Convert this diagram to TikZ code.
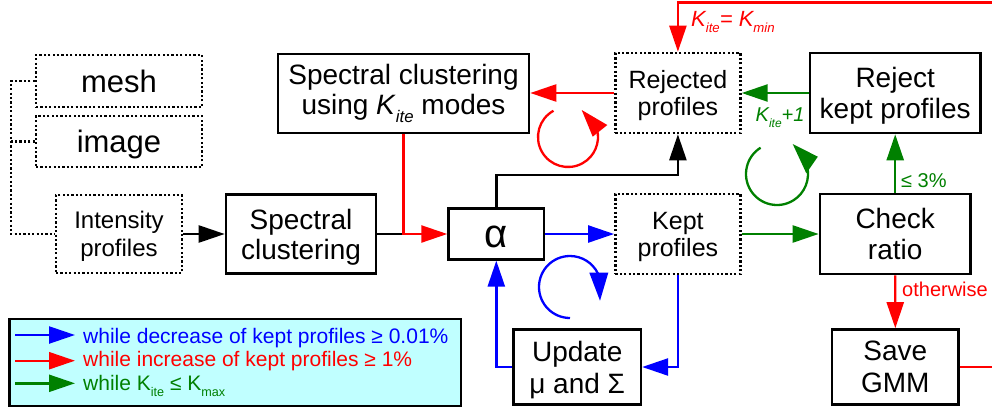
\documentclass[tikz,border=0pt]{standalone}
\usepackage{fontspec}
\usepackage{graphicx}
\setmainfont{Liberation Sans}
\usetikzlibrary{arrows.meta}
\definecolor{cgreen}{RGB}{0,128,0}
\definecolor{cred}{RGB}{255,0,0}
\definecolor{cblue}{RGB}{0,0,255}
\definecolor{legfill}{RGB}{192,255,255}
\newcommand{\fsz}[2]{\fontsize{#1}{#2}\selectfont}
\newcommand{\sbs}[1]{\raisebox{-0.3em}{\scalebox{0.6}{#1}}}
\begin{document}
\begin{tikzpicture}[x=1pt,y=-1pt,
  box/.style={draw, line width=2.6pt, align=center, inner sep=0pt},
  dbox/.style={box, dash pattern=on 2.2pt off 2.2pt},
  conn/.style={line width=2.4pt},
  arr/.style={conn, -{Triangle[length=26pt,width=17pt]}},
  dline/.style={line width=2.6pt, dash pattern=on 2.2pt off 2.2pt},
  lab/.style={anchor=base west, inner sep=0pt},
  loopline/.style={line width=2.3pt}
]
\useasboundingbox (0,0) rectangle (992,407);
\clip (0,0) rectangle (992,407);

% boxes
\node[dbox, minimum width=166pt, minimum height=52pt, font=\fsz{31}{36}] (mesh) at (119,81) {mesh};
\node[dbox, minimum width=166pt, minimum height=51pt, font=\fsz{31}{36}, text depth=0pt] (image) at (119,141.5) {image};
\node[dbox, minimum width=126pt, minimum height=78pt, font=\fsz{24}{28}, text depth=0pt] (intens) at (119,234) {Intensity\\profiles};
\node[box, minimum width=150pt, minimum height=79pt, font=\fsz{28}{30}, text depth=0pt] (spec) at (301,234) {Spectral\\clustering};
\node[box, minimum width=251pt, minimum height=79pt, font=\fsz{28}{30}] (speck) at (403.5,93.5) {Spectral clustering\\using \textit{K}\sbs{\textit{ite}} modes};
\node[box, minimum width=95.4pt, minimum height=50.7pt, font=\fsz{40}{44}, text height=27pt, text depth=0pt] (alpha) at (496.3,234) {α};
\node[dbox, minimum width=125pt, minimum height=80pt, font=\fsz{25}{27}, text depth=0pt] (rej) at (677.9,93) {Rejected\\profiles};
\node[dbox, minimum width=125pt, minimum height=80pt, font=\fsz{25}{27}, text depth=0pt] (kept) at (677.9,234) {Kept\\profiles};
\node[box, minimum width=170.5pt, minimum height=80pt, font=\fsz{28}{31}, text depth=0pt] (rejk) at (895.2,93) {Reject\\kept profiles};
\node[box, minimum width=150.5pt, minimum height=80pt, font=\fsz{28}{31}] (check) at (895.2,234) {Check\\ratio};
\node[box, minimum width=127.3pt, minimum height=75pt, font=\fsz{28}{32}, text depth=0pt] (update) at (577.2,367) {Update\\μ and Σ};
\node[box, minimum width=126.7pt, minimum height=75pt, font=\fsz{28}{31.5}] (save) at (895.3,367) {Save\\GMM};

% helper coordinates
\coordinate (tl) at (11,81);
\coordinate (k1) at (677.9,175);
\coordinate (toprt) at (995,2.3);
\coordinate (toppt) at (677.9,2.3);
\coordinate (savert) at (995,367);

% connectors
\draw[dline] (mesh.west) -- (mesh.west -| tl) |- (intens.west);
\draw[dline] (image.west) -- (image.west -| tl);
\draw[arr] (intens.east) -- (spec.west);
\draw[conn] (spec.east) -- (spec.east -| speck.south);
\draw[arr, cred] (speck.south) |- (alpha.west);
\draw[arr, cred] (rej.west) -- (rej.west -| speck.east);
\draw[arr, cgreen] (rejk.west) -- (rej.east);
\draw[arr, cblue] (alpha.east) -- (kept.west);
\draw[arr, cgreen] (kept.east) -- (check.west);
\draw[arr] (alpha.north) |- (k1) -- (rej.south);
\draw[arr, cblue] (kept.south) |- (update.east);
\draw[arr, cblue] (update.west) -| (alpha.south);
\draw[arr, cgreen] (check.north) -- (rejk.south);
\draw[arr, cred] (check.south) -- (save.north);
\draw[conn, cred] (save.east) -- (savert);
\draw[arr, cred] (toprt) -- (toppt) -- (rej.north);

% labels
\node[lab, cred, font=\fsz{22}{24}\itshape] (kmin) at (691,26) {K\sbs{ite}= K\sbs{min}};
\node[lab, cgreen, font=\fsz{20}{22}\itshape] (kplus) at (755.5,121) {K\sbs{ite}+1};
\node[lab, cgreen, font=\fsz{20}{22}] (le3) at (901,187) {≤ 3\%};
\node[lab, cred, font=\fsz{20}{22}] (oth) at (902,296) {otherwise};

% loop arrows
\draw[loopline, cred] (568,137) ++(-119:30) arc[start angle=-119, end angle=-375, radius=30];
\fill[cred] (581.7,110) -- (607.3,125) -- (592.7,136.7) -- cycle;
\draw[loopline, cgreen] (777,174) ++(-122:31) arc[start angle=-122, end angle=-375, radius=31];
\fill[cgreen] (792.7,144) -- (817.8,156.7) -- (806.3,173.3) -- cycle;
\draw[loopline, cblue] (570,287) ++(90:31) arc[start angle=90, end angle=334, radius=31];
\fill[cblue] (589.3,272.7) -- (608.3,272.7) -- (600,300.7) -- cycle;

% legend
\node[draw, line width=2.4pt, fill=legfill, minimum width=451.4pt, minimum height=87pt, inner sep=0pt] (legend) at (235,362.5) {};
\coordinate (la1) at (15,335);
\coordinate (lb1) at (75,335);
\coordinate (la2) at (15,360.7);
\coordinate (lb2) at (75,360.7);
\coordinate (la3) at (15,383.3);
\coordinate (lb3) at (75,383.3);
\draw[arr, cblue] (la1) -- (lb1);
\draw[arr, cred] (la2) -- (lb2);
\draw[arr, cgreen] (la3) -- (lb3);
\node[lab, cblue, font=\fsz{21}{24}] (lt1) at (83,343.3) {while decrease of kept profiles ≥ 0.01\%};
\node[lab, cred, font=\fsz{21}{24}] (lt2) at (83,366.7) {while increase of kept profiles ≥ 1\%};
\node[lab, cgreen, font=\fsz{21}{24}] (lt3) at (83,390.5) {while K\sbs{ite} ≤ K\sbs{max}};
\end{tikzpicture}
\end{document}
